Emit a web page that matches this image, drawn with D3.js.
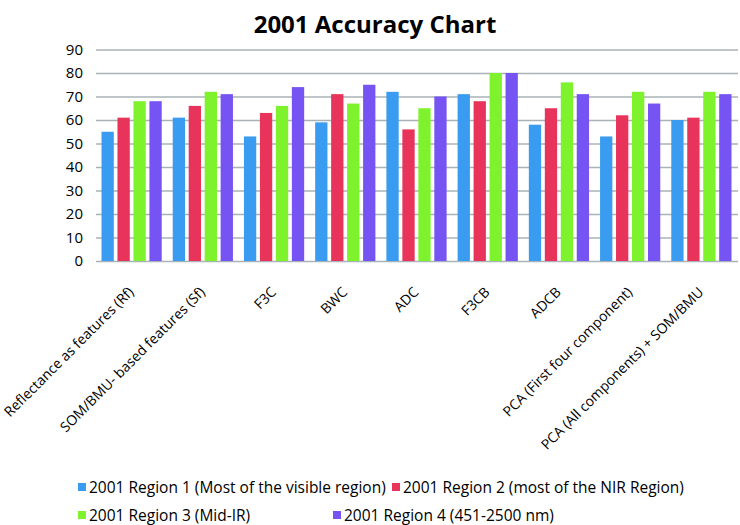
<!DOCTYPE html>
<html>
<head>
<meta charset="utf-8">
<script src="https://cdn.jsdelivr.net/npm/d3@7"></script>
<style>
  body { margin: 0; background: #fff; }
  svg text { font-family: "Open Sans", sans-serif; fill: #000; }
</style>
</head>
<body>
<svg id="chart" width="740" height="525"></svg>
<script>
var categories = ["Reflectance as features (Rf)", "SOM/BMU- based features (Sf)", "F3C", "BWC", "ADC",
                  "F3CB", "ADCB", "PCA (First four component)", "PCA (All components) + SOM/BMU"];
var seriesNames = ["2001 Region 1 (Most of the visible region)", "2001 Region 2 (most of the NIR Region)",
                   "2001 Region 3 (Mid-IR)", "2001 Region 4 (451-2500 nm)"];
var region1 = [55, 61, 53, 59, 72, 71, 58, 53, 60];
var region2 = [61, 66, 63, 71, 56, 68, 65, 62, 61];
var region3 = [68, 72, 66, 67, 65, 80, 76, 72, 72];
var region4 = [68, 71, 74, 75, 70, 80, 71, 67, 71];
var yTicks = [0, 10, 20, 30, 40, 50, 60, 70, 80, 90];
var colors = ["#3a9cf0", "#e8335a", "#7df22d", "#7653f3"];

var series = [region1, region2, region3, region4];

var svg = d3.select("#chart");
var plot = {left: 96, right: 737, top: 49.5, bottom: 261};

var x0 = d3.scaleBand().domain(categories).range([plot.left, plot.right]);
var x1 = d3.scaleBand().domain(d3.range(4))
    .range([5.5, x0.bandwidth() - 5.5]).paddingInner(0.23);
var y = d3.scaleLinear().domain([0, 90]).range([plot.bottom, plot.top]);

// title
svg.append("text")
    .attr("x", 375).attr("y", 33)
    .attr("text-anchor", "middle")
    .style("font-size", "24px").style("font-weight", "bold")
    .text("2001 Accuracy Chart");

// grid + y labels
var yAxis = svg.append("g")
    .attr("transform", "translate(" + plot.left + ",0)")
    .call(d3.axisLeft(y).tickValues(yTicks).tickSize(-(plot.right - plot.left + 1)).tickPadding(13));
yAxis.select(".domain").remove();
yAxis.selectAll(".tick line").attr("stroke", "#a9b3b7").attr("stroke-width", 1.3);
yAxis.selectAll(".tick text").style("font-size", "15px").style("font-family", "Open Sans, sans-serif");

// bars
var groups = svg.append("g").selectAll("g")
    .data(categories)
    .enter().append("g")
    .attr("transform", function(d) { return "translate(" + x0(d) + ",0)"; });

groups.selectAll("rect")
    .data(function(d, i) { return series.map(function(s, k) { return {k: k, v: s[i]}; }); })
    .enter().append("rect")
    .attr("x", function(d) { return x1(d.k); })
    .attr("y", function(d) { return y(d.v); })
    .attr("width", x1.bandwidth())
    .attr("height", function(d) { return plot.bottom - y(d.v); })
    .attr("fill", function(d) { return colors[d.k]; });

// category labels, rotated
svg.append("g").selectAll("text")
    .data(categories)
    .enter().append("text")
    .attr("transform", function(d) {
        return "translate(" + (x0(d) + x0.bandwidth() / 2 + 3) + "," + 293 + ") rotate(-45)";
    })
    .attr("text-anchor", "end")
    .style("font-size", "14px")
    .text(function(d) { return d; });

// legend
var legendPos = [[78, 487], [392, 487], [78, 515], [333, 515]];
var legend = svg.append("g").selectAll("g")
    .data(seriesNames)
    .enter().append("g")
    .attr("transform", function(d, i) { return "translate(" + legendPos[i][0] + "," + legendPos[i][1] + ")"; });
legend.append("rect")
    .attr("x", 0).attr("y", -4).attr("width", 8).attr("height", 8)
    .attr("fill", function(d, i) { return colors[i]; });
legend.append("text")
    .attr("x", 11).attr("y", 5.5)
    .style("font-size", "15.5px")
    .text(function(d) { return d; });
</script>
</body>
</html>
